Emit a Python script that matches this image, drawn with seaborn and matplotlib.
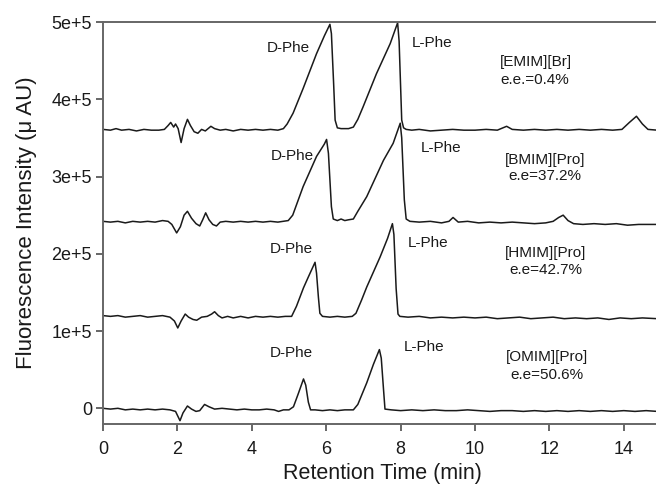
import numpy as np
import pandas as pd
import matplotlib
matplotlib.use("Agg")
import matplotlib.pyplot as plt
import seaborn as sns

# ---------------- data ----------------
# intensities in units of 1e5 uAU
emim_t = [0.0, 0.2, 0.35, 0.5, 0.7, 0.9, 1.1, 1.3, 1.5, 1.65, 1.75, 1.82, 1.9, 1.95, 2.02, 2.1,
          2.18, 2.27, 2.35, 2.45, 2.55, 2.65, 2.75, 2.9, 3.0, 3.15, 3.3, 3.5, 3.7, 3.9, 4.1, 4.3,
          4.5, 4.7, 4.85, 4.95, 5.11, 5.38, 5.74, 5.95, 6.1, 6.14, 6.2, 6.24, 6.3, 6.4, 6.6,
          6.73, 6.85, 6.99, 7.35, 7.72, 7.92, 7.96, 8.03, 8.08, 8.15, 8.3, 8.5, 8.8, 9.1, 9.4, 9.7,
          10.0, 10.3, 10.6, 10.85, 11.0, 11.3, 11.6, 11.9, 12.2, 12.5, 12.8, 13.1, 13.4, 13.7,
          13.95, 14.15, 14.34, 14.5, 14.65, 14.9]
emim_i = [3.61, 3.60, 3.62, 3.60, 3.61, 3.59, 3.61, 3.60, 3.60, 3.61, 3.66, 3.70, 3.64, 3.68, 3.62, 3.44,
          3.62, 3.74, 3.66, 3.58, 3.56, 3.61, 3.59, 3.65, 3.62, 3.60, 3.61, 3.59, 3.61, 3.60, 3.61, 3.60,
          3.61, 3.60, 3.62, 3.68, 3.82, 4.14, 4.59, 4.82, 4.97, 4.85, 4.20, 3.73, 3.63, 3.62, 3.62,
          3.64, 3.74, 3.90, 4.33, 4.72, 4.99, 4.75, 3.73, 3.63, 3.61, 3.60, 3.61, 3.59, 3.60, 3.61, 3.60,
          3.60, 3.61, 3.60, 3.65, 3.61, 3.60, 3.61, 3.60, 3.61, 3.60, 3.61, 3.60, 3.61, 3.60,
          3.61, 3.70, 3.78, 3.68, 3.61, 3.60]

bmim_t = [0.0, 0.2, 0.4, 0.6, 0.8, 1.0, 1.2, 1.4, 1.6, 1.75, 1.85, 1.98, 2.08, 2.18, 2.27, 2.38,
          2.5, 2.6, 2.68, 2.76, 2.85, 2.95, 3.05, 3.15, 3.3, 3.5, 3.7, 3.9, 4.1, 4.3, 4.5, 4.7,
          4.98, 5.1, 5.38, 5.74, 5.95, 6.01, 6.06, 6.14, 6.19, 6.3, 6.4, 6.5, 6.6, 6.73,
          6.85, 7.09, 7.54, 7.80, 7.99, 8.03, 8.1, 8.15, 8.25, 8.5, 8.8, 9.1, 9.3, 9.41,
          9.55, 9.8, 10.1, 10.4, 10.7, 11.0, 11.3, 11.6, 11.9, 12.1, 12.25, 12.37, 12.5, 12.65,
          12.9, 13.2, 13.5, 13.8, 14.1, 14.4, 14.9]
bmim_i = [2.42, 2.41, 2.42, 2.40, 2.42, 2.41, 2.42, 2.41, 2.43, 2.42, 2.38, 2.27, 2.35, 2.50, 2.55, 2.46,
          2.39, 2.36, 2.44, 2.53, 2.44, 2.38, 2.36, 2.41, 2.42, 2.41, 2.42, 2.41, 2.42, 2.41, 2.42, 2.41,
          2.43, 2.50, 2.87, 3.26, 3.42, 3.48, 3.30, 2.61, 2.45, 2.43, 2.45, 2.43, 2.44, 2.45,
          2.55, 2.74, 3.21, 3.43, 3.69, 3.50, 2.70, 2.45, 2.42, 2.41, 2.42, 2.40, 2.42, 2.47,
          2.41, 2.42, 2.40, 2.41, 2.40, 2.41, 2.40, 2.39, 2.40, 2.42, 2.47, 2.50, 2.43, 2.39,
          2.38, 2.39, 2.38, 2.39, 2.37, 2.38, 2.38]

hmim_t = [0.0, 0.2, 0.4, 0.6, 0.8, 1.0, 1.2, 1.4, 1.6, 1.8, 1.92, 2.01, 2.1, 2.21, 2.3, 2.42,
          2.52, 2.65, 2.8, 2.92, 3.0, 3.1, 3.2, 3.35, 3.5, 3.7, 3.9, 4.1, 4.3, 4.5, 4.7, 4.9,
          5.07, 5.2, 5.39, 5.52, 5.70, 5.74, 5.79, 5.83, 5.9, 6.1, 6.3, 6.5, 6.7, 6.8, 6.95,
          7.09, 7.45, 7.65, 7.78, 7.82, 7.88, 7.93, 7.98, 8.2, 8.5, 8.8, 9.1, 9.4, 9.7, 10.0, 10.3,
          10.6, 10.9, 11.2, 11.5, 11.8, 12.1, 12.4, 12.7, 13.0, 13.3, 13.6, 13.9, 14.2, 14.5, 14.9]
hmim_i = [1.20, 1.19, 1.20, 1.18, 1.19, 1.20, 1.18, 1.19, 1.20, 1.18, 1.13, 1.04, 1.13, 1.22, 1.18, 1.15,
          1.14, 1.18, 1.19, 1.22, 1.25, 1.20, 1.17, 1.19, 1.17, 1.19, 1.17, 1.19, 1.18, 1.19, 1.18, 1.19,
          1.19, 1.32, 1.56, 1.70, 1.89, 1.75, 1.44, 1.23, 1.19, 1.18, 1.19, 1.18, 1.19, 1.23, 1.40,
          1.57, 1.96, 2.20, 2.39, 2.25, 1.55, 1.22, 1.19, 1.18, 1.19, 1.17, 1.18, 1.17, 1.18, 1.17, 1.18,
          1.16, 1.17, 1.18, 1.16, 1.17, 1.18, 1.16, 1.17, 1.16, 1.17, 1.15, 1.17, 1.16, 1.17, 1.16]

omim_t = [0.0, 0.2, 0.4, 0.6, 0.8, 1.0, 1.2, 1.4, 1.6, 1.8, 1.95, 2.07, 2.15, 2.27, 2.38, 2.5,
          2.6, 2.73, 2.85, 3.0, 3.2, 3.4, 3.6, 3.8, 4.0, 4.2, 4.4, 4.6, 4.72, 4.85, 5.0, 5.12,
          5.25, 5.39, 5.45, 5.52, 5.58, 5.7, 5.9, 6.1, 6.3, 6.5, 6.73, 6.85, 7.09, 7.27, 7.43, 7.48,
          7.54, 7.58, 7.75, 8.0, 8.3, 8.6, 8.9, 9.2, 9.5, 9.8, 10.1, 10.4, 10.7, 11.0, 11.3, 11.6,
          11.9, 12.2, 12.5, 12.8, 13.1, 13.4, 13.7, 14.0, 14.3, 14.6, 14.9]
omim_i = [0.00, -0.01, 0.00, -0.02, -0.01, -0.02, -0.01, -0.02, -0.01, -0.02, -0.04, -0.16, -0.06, 0.03, -0.01, -0.04,
          -0.03, 0.05, 0.02, -0.01, 0.00, -0.01, -0.02, -0.01, -0.02, -0.02, -0.01, -0.02, -0.04, -0.02, -0.02, 0.02,
          0.19, 0.38, 0.30, 0.08, -0.02, -0.02, -0.03, -0.02, -0.03, -0.02, -0.02, 0.05, 0.33, 0.57, 0.76, 0.65,
          0.25, -0.01, -0.02, -0.03, -0.02, -0.03, -0.02, -0.03, -0.03, -0.02, -0.03, -0.04, -0.03, -0.03, -0.04, -0.03,
          -0.04, -0.03, -0.04, -0.03, -0.04, -0.03, -0.04, -0.03, -0.04, -0.03, -0.04]

ionic_liquids = ["[EMIM][Br]", "[BMIM][Pro]", "[HMIM][Pro]", "[OMIM][Pro]"]
ee_labels = ["e.e.=0.4%", "e.e=37.2%", "e.e=42.7%", "e.e=50.6%"]
peak_labels = ["D-Phe", "L-Phe"]
x_ticks = [0, 2, 4, 6, 8, 10, 12, 14]
y_ticks = [0, 1e5, 2e5, 3e5, 4e5, 5e5]
y_tick_labels = ["0", "1e+5", "2e+5", "3e+5", "4e+5", "5e+5"]
x_label = "Retention Time (min)"
y_label = "Fluorescence Intensity (\u03bc AU)"

# ---------------- build table ----------------
frames = []
for name, t, i in zip(ionic_liquids, [emim_t, bmim_t, hmim_t, omim_t],
                      [emim_i, bmim_i, hmim_i, omim_i]):
    frames.append(pd.DataFrame({"time": t, "intensity": np.array(i) * 1e5, "il": name}))
df = pd.concat(frames, ignore_index=True)

# ---------------- plot ----------------
sns.set_theme(style="ticks")
plt.rcParams["font.family"] = ["Liberation Sans", "DejaVu Sans"]

fig = plt.figure(figsize=(6.56, 4.88), dpi=100)
ax = fig.add_axes([103 / 656, 64 / 488, 558 / 656, 402 / 488])

line_color = "#1a1a1a"
for name in ionic_liquids:
    sub = df[df["il"] == name]
    sns.lineplot(data=sub, x="time", y="intensity", ax=ax, sort=False, estimator=None,
                 color=line_color, lw=1.1)

ax.set_xlim(0, 15)
ax.set_ylim(-2.03e4, 5e5)
ax.set_xticks(x_ticks)
ax.set_xticklabels([str(v) for v in x_ticks])
ax.set_yticks(y_ticks)
ax.set_yticklabels(y_tick_labels)

spine_color = "#666666"
for s in ["left", "bottom", "top", "right"]:
    ax.spines[s].set_color(spine_color)
    ax.spines[s].set_linewidth(1.4)
ax.tick_params(axis="both", direction="out", length=5, width=1.4, color=spine_color,
               labelsize=13, labelcolor="#1a1a1a")
ax.tick_params(axis="x", pad=7)
ax.tick_params(axis="y", pad=3)

ax.set_xlabel(x_label, fontsize=15.5, color="#1a1a1a", labelpad=4)
ax.set_ylabel(y_label, fontsize=16, color="#1a1a1a", labelpad=10)

fs = 11
tc = "#1a1a1a"
# peak labels (D-Phe centered, L-Phe left-aligned)
d_pos = [(4.97, 4.66e5), (5.08, 3.26e5), (5.05, 2.06e5), (5.05, 0.72e5)]
l_pos = [(8.31, 4.73e5), (8.55, 3.37e5), (8.20, 2.14e5), (8.09, 0.79e5)]
for (dx, dy), (lx, ly) in zip(d_pos, l_pos):
    ax.text(dx, dy, peak_labels[0], ha="center", va="center", fontsize=fs, color=tc)
    ax.text(lx, ly, peak_labels[1], ha="left", va="center", fontsize=fs, color=tc)

# ionic liquid / e.e. labels
ax.text(10.67, 4.48e5, ionic_liquids[0], ha="left", va="center", fontsize=fs, color=tc)
ax.text(10.67, 4.25e5, ee_labels[0], ha="left", va="center", fontsize=fs, color=tc)
il_pos = [(11.88, 3.21e5, 3.01e5), (11.91, 2.01e5, 1.79e5), (11.94, 0.66e5, 0.43e5)]
for k, (cx, y1, y2) in enumerate(il_pos, start=1):
    ax.text(cx, y1, ionic_liquids[k], ha="center", va="center", fontsize=fs, color=tc)
    ax.text(cx, y2, ee_labels[k], ha="center", va="center", fontsize=fs, color=tc)

fig.savefig("out.png", dpi=100)
